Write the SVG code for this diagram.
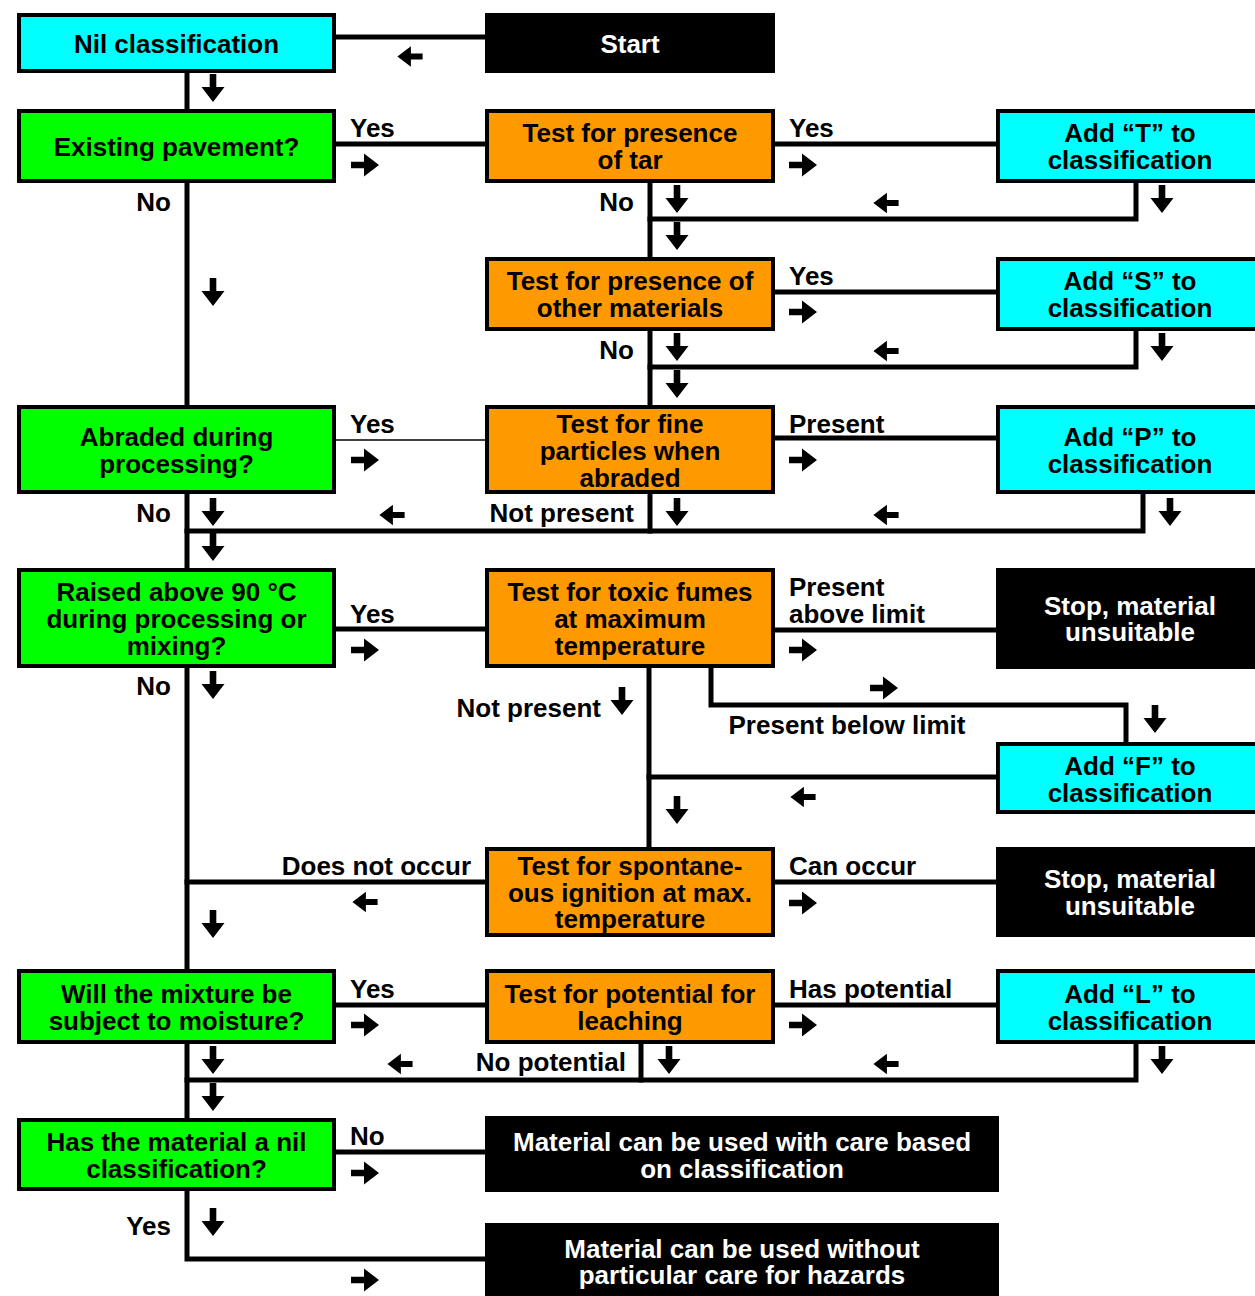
<svg xmlns="http://www.w3.org/2000/svg" xmlns:xlink="http://www.w3.org/1999/xlink" width="1255" height="1296" viewBox="0 0 1255 1296">
<style>
text{font-family:"Liberation Sans",Arial,sans-serif;font-weight:bold;font-size:26px;fill:#000}
.c{text-anchor:middle}
.r{text-anchor:end}
.w{fill:#fff}
.cy{fill:#00ffff;stroke:#000;stroke-width:4}
.gr{fill:#00ff00;stroke:#000;stroke-width:4}
.or{fill:#ff9900;stroke:#000;stroke-width:4}
.bk{fill:#000;stroke:#000;stroke-width:2}
.ln{fill:none;stroke:#000;stroke-width:5;stroke-linejoin:miter;stroke-linecap:square}
.thin{fill:none;stroke:#000;stroke-width:1.5}
</style>
<defs>
<path id="ar" d="M-14,-3.3 H-1 V-11.5 L14,0 L-1,11.5 V3.3 H-14 Z" fill="#000"/>
</defs>
<rect width="1255" height="1296" fill="#fff"/>

<g id="connectors">
<path class="ln" d="M485 37 H336"/>
<path class="ln" d="M187 73 V109"/>
<path class="ln" d="M336 144 H485"/>
<path class="ln" d="M775 144 H996"/>
<path class="ln" d="M187 183 V405"/>
<path class="ln" d="M650 183 V257"/>
<path class="ln" d="M1136 183 V219 H650"/>
<path class="ln" d="M775 292 H996"/>
<path class="ln" d="M650 331 V405"/>
<path class="ln" d="M1136 331 V367 H650"/>
<path class="thin" d="M336 440 H485"/>
<path class="ln" d="M775 438 H996"/>
<path class="ln" d="M187 494 V568"/>
<path class="ln" d="M650 494 V531"/>
<path class="ln" d="M1143 494 V531 H187"/>
<path class="ln" d="M336 629 H485"/>
<path class="ln" d="M775 630 H996"/>
<path class="ln" d="M711 668 V705 H1126 V742"/>
<path class="ln" d="M649 668 V847"/>
<path class="ln" d="M996 777 H649"/>
<path class="ln" d="M187 668 V969"/>
<path class="ln" d="M485 882 H187"/>
<path class="ln" d="M775 882 H996"/>
<path class="ln" d="M336 1005 H485"/>
<path class="ln" d="M775 1005 H996"/>
<path class="ln" d="M187 1044 V1118"/>
<path class="ln" d="M641 1044 V1080"/>
<path class="ln" d="M1136 1044 V1080 H187"/>
<path class="ln" d="M336 1152 H485"/>
<path class="ln" d="M187 1191 V1259 H485"/>

<!-- right arrows -->
<use xlink:href="#ar" transform="translate(365,165)"/>
<use xlink:href="#ar" transform="translate(803,165)"/>
<use xlink:href="#ar" transform="translate(803,312)"/>
<use xlink:href="#ar" transform="translate(365,460)"/>
<use xlink:href="#ar" transform="translate(803,460)"/>
<use xlink:href="#ar" transform="translate(365,650)"/>
<use xlink:href="#ar" transform="translate(803,650)"/>
<use xlink:href="#ar" transform="translate(884,688)"/>
<use xlink:href="#ar" transform="translate(803,903)"/>
<use xlink:href="#ar" transform="translate(365,1025)"/>
<use xlink:href="#ar" transform="translate(803,1025)"/>
<use xlink:href="#ar" transform="translate(365,1173)"/>
<use xlink:href="#ar" transform="translate(365,1280)"/>
<!-- left arrows -->
<use xlink:href="#ar" transform="translate(410,56.5) rotate(180) scale(0.9)"/>
<use xlink:href="#ar" transform="translate(886,203) rotate(180) scale(0.9)"/>
<use xlink:href="#ar" transform="translate(886,351) rotate(180) scale(0.9)"/>
<use xlink:href="#ar" transform="translate(392,515) rotate(180) scale(0.9)"/>
<use xlink:href="#ar" transform="translate(886,515) rotate(180) scale(0.9)"/>
<use xlink:href="#ar" transform="translate(803,797) rotate(180) scale(0.9)"/>
<use xlink:href="#ar" transform="translate(365,902) rotate(180) scale(0.9)"/>
<use xlink:href="#ar" transform="translate(400,1064) rotate(180) scale(0.9)"/>
<use xlink:href="#ar" transform="translate(886,1064) rotate(180) scale(0.9)"/>
<!-- down arrows -->
<use xlink:href="#ar" transform="translate(213,88) rotate(90)"/>
<use xlink:href="#ar" transform="translate(677,199) rotate(90)"/>
<use xlink:href="#ar" transform="translate(1162,199) rotate(90)"/>
<use xlink:href="#ar" transform="translate(677,236) rotate(90)"/>
<use xlink:href="#ar" transform="translate(213,292) rotate(90)"/>
<use xlink:href="#ar" transform="translate(677,347) rotate(90)"/>
<use xlink:href="#ar" transform="translate(1162,347) rotate(90)"/>
<use xlink:href="#ar" transform="translate(677,384) rotate(90)"/>
<use xlink:href="#ar" transform="translate(213,512) rotate(90)"/>
<use xlink:href="#ar" transform="translate(677,512) rotate(90)"/>
<use xlink:href="#ar" transform="translate(1170,512) rotate(90)"/>
<use xlink:href="#ar" transform="translate(213,547) rotate(90)"/>
<use xlink:href="#ar" transform="translate(213,685) rotate(90)"/>
<use xlink:href="#ar" transform="translate(622,701) rotate(90)"/>
<use xlink:href="#ar" transform="translate(1155,719) rotate(90)"/>
<use xlink:href="#ar" transform="translate(677,810) rotate(90)"/>
<use xlink:href="#ar" transform="translate(213,924) rotate(90)"/>
<use xlink:href="#ar" transform="translate(213,1060) rotate(90)"/>
<use xlink:href="#ar" transform="translate(669,1060) rotate(90)"/>
<use xlink:href="#ar" transform="translate(1162,1060) rotate(90)"/>
<use xlink:href="#ar" transform="translate(213,1097) rotate(90)"/>
<use xlink:href="#ar" transform="translate(213,1222) rotate(90)"/>

<!-- labels -->
<text x="350" y="137">Yes</text>
<text x="789" y="137">Yes</text>
<text class="r" x="171" y="211">No</text>
<text class="r" x="634" y="211">No</text>
<text x="789" y="285">Yes</text>
<text class="r" x="634" y="359">No</text>
<text x="350" y="433">Yes</text>
<text x="789" y="433">Present</text>
<text class="r" x="171" y="522">No</text>
<text class="r" x="634" y="522">Not present</text>
<text x="350" y="623">Yes</text>
<text x="789" y="596">Present</text>
<text x="789" y="623">above limit</text>
<text class="r" x="171" y="695">No</text>
<text class="r" x="601" y="717">Not present</text>
<text class="c" x="847" y="734">Present below limit</text>
<text class="r" x="471" y="875">Does not occur</text>
<text x="789" y="875">Can occur</text>
<text x="350" y="998">Yes</text>
<text x="789" y="998">Has potential</text>
<text class="r" x="626" y="1071">No potential</text>
<text x="350" y="1145">No</text>
<text class="r" x="171" y="1235">Yes</text>
</g>

<g id="nil"><rect class="cy" x="19" y="15" width="315" height="56"/><text class="c" x="176.5" y="53">Nil classification</text></g>
<g id="start"><rect class="bk" x="486" y="14" width="288" height="58"/><text class="c w" x="630" y="53">Start</text></g>

<g id="existing"><rect class="gr" x="19" y="111" width="315" height="70"/><text class="c" x="176.5" y="156">Existing pavement?</text></g>
<g id="tar"><rect class="or" x="487" y="111" width="286" height="70"/><text class="c" x="630" y="142">Test for presence</text><text class="c" x="630" y="169">of tar</text></g>
<g id="addT"><rect class="cy" x="998" y="111" width="264" height="70"/><text class="c" x="1130" y="142">Add “T” to</text><text class="c" x="1130" y="169">classification</text></g>

<g id="other"><rect class="or" x="487" y="259" width="286" height="70"/><text class="c" x="630" y="290">Test for presence of</text><text class="c" x="630" y="317">other materials</text></g>
<g id="addS"><rect class="cy" x="998" y="259" width="264" height="70"/><text class="c" x="1130" y="290">Add “S” to</text><text class="c" x="1130" y="317">classification</text></g>

<g id="abraded"><rect class="gr" x="19" y="407" width="315" height="85"/><text class="c" x="176.5" y="446">Abraded during</text><text class="c" x="176.5" y="473">processing?</text></g>
<g id="fine"><rect class="or" x="487" y="407" width="286" height="85"/><text class="c" x="630" y="433">Test for fine</text><text class="c" x="630" y="460">particles when</text><text class="c" x="630" y="487">abraded</text></g>
<g id="addP"><rect class="cy" x="998" y="407" width="264" height="85"/><text class="c" x="1130" y="446">Add “P” to</text><text class="c" x="1130" y="473">classification</text></g>

<g id="raised"><rect class="gr" x="19" y="570" width="315" height="96"/><text class="c" x="176.5" y="601">Raised above 90 °C</text><text class="c" x="176.5" y="628">during processing or</text><text class="c" x="176.5" y="655">mixing?</text></g>
<g id="toxic"><rect class="or" x="487" y="570" width="286" height="96"/><text class="c" x="630" y="601">Test for toxic fumes</text><text class="c" x="630" y="628">at maximum</text><text class="c" x="630" y="655">temperature</text></g>
<g id="stop1"><rect class="bk" x="997" y="569" width="265" height="99"/><text class="c w" x="1130" y="615">Stop, material</text><text class="c w" x="1130" y="641">unsuitable</text></g>

<g id="addF"><rect class="cy" x="998" y="744" width="264" height="68"/><text class="c" x="1130" y="775">Add “F” to</text><text class="c" x="1130" y="802">classification</text></g>

<g id="ignition"><rect class="or" x="487" y="849" width="286" height="86"/><text class="c" x="630" y="875">Test for spontane-</text><text class="c" x="630" y="902">ous ignition at max.</text><text class="c" x="630" y="928">temperature</text></g>
<g id="stop2"><rect class="bk" x="997" y="848" width="265" height="88"/><text class="c w" x="1130" y="888">Stop, material</text><text class="c w" x="1130" y="915">unsuitable</text></g>

<g id="moisture"><rect class="gr" x="19" y="971" width="315" height="71"/><text class="c" x="176.5" y="1003">Will the mixture be</text><text class="c" x="176.5" y="1030">subject to moisture?</text></g>
<g id="leaching"><rect class="or" x="487" y="971" width="286" height="71"/><text class="c" x="630" y="1003">Test for potential for</text><text class="c" x="630" y="1030">leaching</text></g>
<g id="addL"><rect class="cy" x="998" y="971" width="264" height="71"/><text class="c" x="1130" y="1003">Add “L” to</text><text class="c" x="1130" y="1030">classification</text></g>

<g id="nilq"><rect class="gr" x="19" y="1120" width="315" height="69"/><text class="c" x="176.5" y="1151">Has the material a nil</text><text class="c" x="176.5" y="1178">classification?</text></g>
<g id="care"><rect class="bk" x="486" y="1117" width="512" height="74"/><text class="c w" x="742" y="1151">Material can be used with care based</text><text class="c w" x="742" y="1178">on classification</text></g>
<g id="nocare"><rect class="bk" x="486" y="1224" width="512" height="74"/><text class="c w" x="742" y="1258">Material can be used without</text><text class="c w" x="742" y="1284">particular care for hazards</text></g>
</svg>
